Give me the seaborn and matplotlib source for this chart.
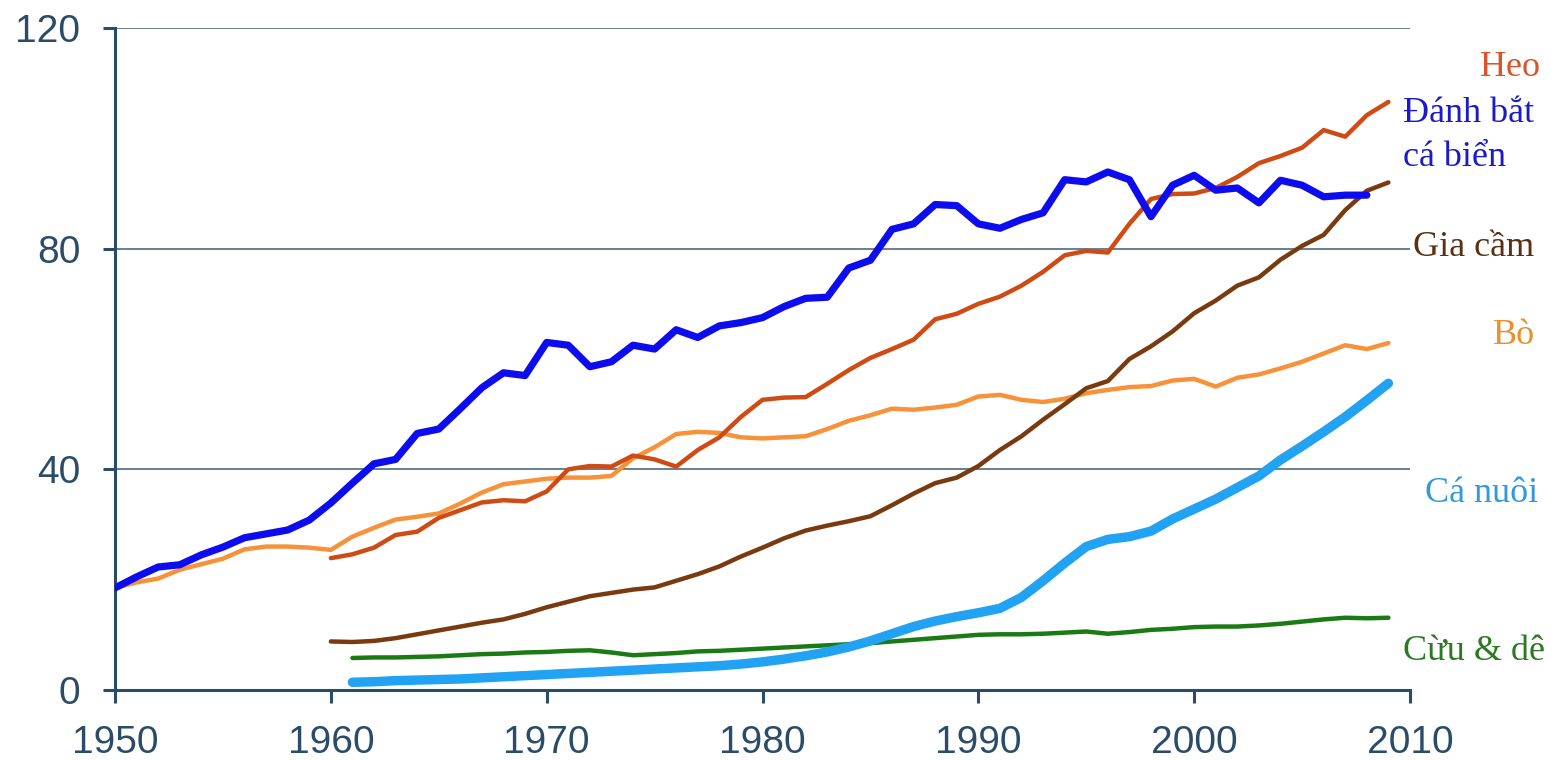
import pandas as pd
import matplotlib.pyplot as plt
import seaborn as sns

# annual values
capture_years = list(range(1950, 2009))
capture = [18.5, 20.5, 22.3, 22.7, 24.5, 25.9, 27.6, 28.3, 29.0, 30.8,
           33.9, 37.5, 41.0, 41.8, 46.5, 47.3, 51.0, 54.8, 57.5, 57.0,
           63.0, 62.5, 58.6, 59.5, 62.5, 61.8, 65.3, 63.9, 66.0, 66.6,
           67.5, 69.5, 71.0, 71.2, 76.5, 77.9, 83.5, 84.5, 88.0, 87.8,
           84.5, 83.7, 85.3, 86.5, 92.5, 92.1, 93.9, 92.5, 85.8, 91.5,
           93.3, 90.6, 91.0, 88.3, 92.4, 91.5, 89.4, 89.7, 89.7]

beef_years = list(range(1950, 2010))
beef = [18.5, 19.5, 20.2, 21.8, 22.8, 23.8, 25.5, 26.0, 26.0, 25.8,
        25.4, 27.8, 29.4, 30.9, 31.4, 32.0, 33.8, 35.8, 37.3, 37.8,
        38.3, 38.5, 38.5, 38.8, 42.0, 44.0, 46.4, 46.8, 46.6, 45.8,
        45.6, 45.8, 46.0, 47.3, 48.8, 49.8, 51.0, 50.8, 51.2, 51.7,
        53.2, 53.5, 52.6, 52.2, 52.8, 53.8, 54.4, 54.9, 55.1, 56.1,
        56.4, 55.0, 56.6, 57.2, 58.3, 59.5, 61.0, 62.5, 61.8, 62.9]

pig_years = list(range(1960, 2010))
pig = [23.9, 24.6, 25.8, 28.1, 28.7, 31.2, 32.6, 34.0, 34.4, 34.2,
       36.0, 40.0, 40.6, 40.5, 42.5, 41.8, 40.5, 43.5, 45.8, 49.5,
       52.6, 53.0, 53.1, 55.5, 58.0, 60.2, 61.8, 63.5, 67.2, 68.2,
       70.0, 71.3, 73.3, 75.8, 78.8, 79.6, 79.3, 84.5, 89.0, 89.9,
       90.0, 91.0, 93.0, 95.5, 96.8, 98.3, 101.5, 100.3, 104.2, 106.6]

poultry_years = list(range(1960, 2010))
poultry = [8.8, 8.7, 8.9, 9.4, 10.1, 10.8, 11.5, 12.2, 12.8, 13.8,
           15.0, 16.0, 17.0, 17.6, 18.2, 18.6, 19.8, 21.0, 22.4, 24.2,
           25.8, 27.5, 28.9, 29.8, 30.6, 31.5, 33.5, 35.6, 37.5, 38.5,
           40.6, 43.5, 46.0, 49.0, 51.8, 54.7, 56.0, 60.0, 62.3, 65.0,
           68.3, 70.6, 73.3, 74.8, 78.0, 80.5, 82.5, 87.0, 90.5, 92.0]

aqua_years = list(range(1961, 2010))
aqua = [1.4, 1.5, 1.7, 1.8, 1.9, 2.0, 2.2, 2.4, 2.6,
        2.8, 3.0, 3.2, 3.4, 3.6, 3.8, 4.0, 4.2, 4.4, 4.7,
        5.1, 5.6, 6.2, 6.9, 7.8, 8.9, 10.2, 11.5, 12.5, 13.3,
        14.0, 14.8, 16.8, 19.8, 23.0, 26.0, 27.3, 27.8, 28.8, 31.0,
        32.8, 34.6, 36.7, 38.8, 41.7, 44.2, 46.8, 49.5, 52.5, 55.6]

sheep_years = list(range(1961, 2010))
sheep = [5.8, 5.9, 5.9, 6.0, 6.1, 6.3, 6.5, 6.6, 6.8,
         6.9, 7.1, 7.2, 6.8, 6.3, 6.5, 6.7, 7.0, 7.1, 7.3,
         7.5, 7.7, 7.9, 8.1, 8.3, 8.5, 8.8, 9.1, 9.4, 9.7,
         10.0, 10.1, 10.1, 10.2, 10.4, 10.6, 10.2, 10.5, 10.9, 11.1,
         11.4, 11.5, 11.5, 11.7, 12.0, 12.4, 12.8, 13.1, 13.0, 13.1]

x_ticks = [1950, 1960, 1970, 1980, 1990, 2000, 2010]
y_ticks = [0, 40, 80, 120]

sns.set_style("white")
plt.rcParams['font.family'] = ['Liberation Sans', 'DejaVu Sans']

axis_col = "#2B4C68"

fig = plt.figure(figsize=(15.58, 7.6), dpi=100)
ax = fig.add_axes([115 / 1558, 70 / 760, 1295 / 1558, 662 / 760])

for yv in [40, 80, 120]:
    ax.axhline(yv, color="#3E5C74", lw=1.1, zorder=1)

series = [
    (beef_years, beef, "#F7923A", 3.2),
    (pig_years, pig, "#CF4B14", 3.2),
    (poultry_years, poultry, "#7A3A10", 3.2),
    (sheep_years, sheep, "#1C7A14", 3.2),
    (aqua_years, aqua, "#22A2F2", 6.8),
    (capture_years, capture, "#0C0CEE", 5.2),
]
for yrs, vals, col, lw in series:
    df = pd.DataFrame({"year": yrs, "value": vals})
    sns.lineplot(data=df, x="year", y="value", ax=ax, color=col, lw=lw,
                 solid_capstyle="round", solid_joinstyle="round", zorder=3)

ax.set_xlim(1950, 2010)
ax.set_ylim(0, 120)
ax.set_xticks(x_ticks)
ax.set_yticks(y_ticks)
ax.set_xlabel("")
ax.set_ylabel("")
for s in ["top", "right"]:
    ax.spines[s].set_visible(False)
for s in ["left", "bottom"]:
    ax.spines[s].set_color(axis_col)
    ax.spines[s].set_linewidth(2.2)
ax.tick_params(axis="both", which="major", bottom=True, left=True,
               direction="out", length=9, width=2.2,
               color=axis_col, labelcolor=axis_col, labelsize=28)
ax.tick_params(axis="x", pad=16)
ax.tick_params(axis="y", pad=16)

label_font = ['Liberation Serif', 'DejaVu Serif']
labels = [
    ("Heo", 1540, 68, "#D9542B", "right"),
    ("Đánh bắt", 1403, 113, "#1A1AC8", "left"),
    ("cá biển", 1403, 158, "#1A1AC8", "left"),
    ("Gia cầm", 1413, 248, "#5A3012", "left"),
    ("Bò", 1535, 335, "#E8902E", "right"),
    ("Cá nuôi", 1425, 493, "#3399DD", "left"),
    ("Cừu & dê", 1403, 652, "#2A7A22", "left"),
]
for txt, px, py, col, ha in labels:
    fig.text(px / 1558, 1 - py / 760, txt, color=col, fontsize=26,
             family=label_font, ha=ha, va="center")

fig.savefig("out.png", dpi=100)
